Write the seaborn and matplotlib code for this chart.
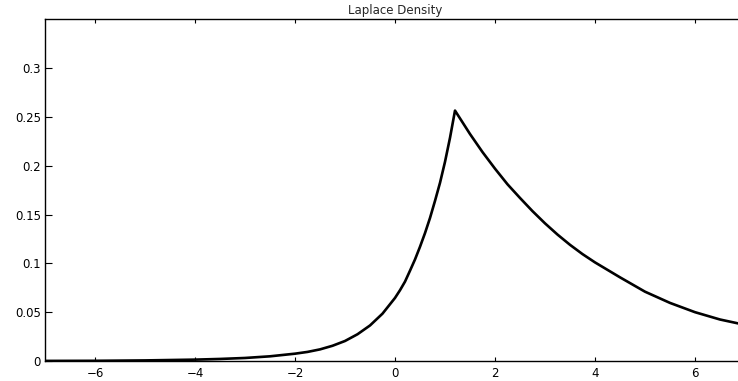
import matplotlib
matplotlib.use("Agg")
import matplotlib.pyplot as plt
import seaborn as sns
import pandas as pd

# Curve points
x_vals = [-7.0, -6.0, -5.0, -4.0, -3.5, -3.0, -2.5, -2.0, -1.75, -1.5, -1.25,
          -1.0, -0.75, -0.5, -0.25, 0.0, 0.1, 0.2, 0.3, 0.4, 0.5, 0.6, 0.7,
          0.8, 0.9, 1.0, 1.1, 1.2,
          1.35, 1.5, 1.75, 2.0, 2.25, 2.5, 2.75, 3.0, 3.25, 3.5, 3.75, 4.0,
          4.5, 5.0, 5.5, 6.0, 6.5, 7.0]
density = [0.0001, 0.0002, 0.0006, 0.0014, 0.0021, 0.0031, 0.0048, 0.0075,
           0.0093, 0.0119, 0.0156, 0.0205, 0.0274, 0.0364, 0.0485, 0.0646,
           0.0725, 0.0813, 0.0925, 0.1040, 0.1170, 0.1310, 0.1465, 0.1640,
           0.1825, 0.2040, 0.2286, 0.2565,
           0.2445, 0.2325, 0.2140, 0.1970, 0.1810, 0.1670, 0.1535, 0.1410,
           0.1295, 0.1190, 0.1095, 0.1010, 0.0857, 0.0710, 0.0595, 0.0500,
           0.0425, 0.0370]

x_ticks = [-6, -4, -2, 0, 2, 4, 6]
x_tick_labels = ["\u22126", "\u22124", "\u22122", "0", "2", "4", "6"]
y_ticks = [0, 0.05, 0.1, 0.15, 0.2, 0.25, 0.3]
y_tick_labels = ["0", "0.05", "0.1", "0.15", "0.2", "0.25", "0.3"]
title = "Laplace Density"

sns.set_style("white")
plt.rcParams["font.family"] = ["DejaVu Sans"]

df = pd.DataFrame({"x": x_vals, "y": density})

fig = plt.figure(figsize=(7.38, 3.81), dpi=100)
ax = fig.add_axes([45 / 738, 20 / 381, 700 / 738, 341.7 / 381])

sns.lineplot(data=df, x="x", y="y", ax=ax, color="black", linewidth=1.9,
             sort=False)

ax.set_xlim(-7, 7)
ax.set_ylim(0, 0.35)
ax.set_xticks(x_ticks)
ax.set_xticklabels(x_tick_labels)
ax.set_yticks(y_ticks)
ax.set_yticklabels(y_tick_labels)
ax.set_xlabel("")
ax.set_ylabel("")

for s in ax.spines.values():
    s.set_visible(True)
    s.set_color("black")
    s.set_linewidth(1.0)

ax.tick_params(axis="x", direction="in", length=3.2, width=0.8,
               top=True, bottom=True, labelsize=8.5, pad=4, colors="black")
ax.tick_params(axis="y", direction="in", length=4.8, width=0.8,
               left=True, right=True, labelsize=8.5, pad=3, colors="black")

ax.set_title(title, fontsize=8.5, pad=4)

fig.savefig("out.png", dpi=100)
